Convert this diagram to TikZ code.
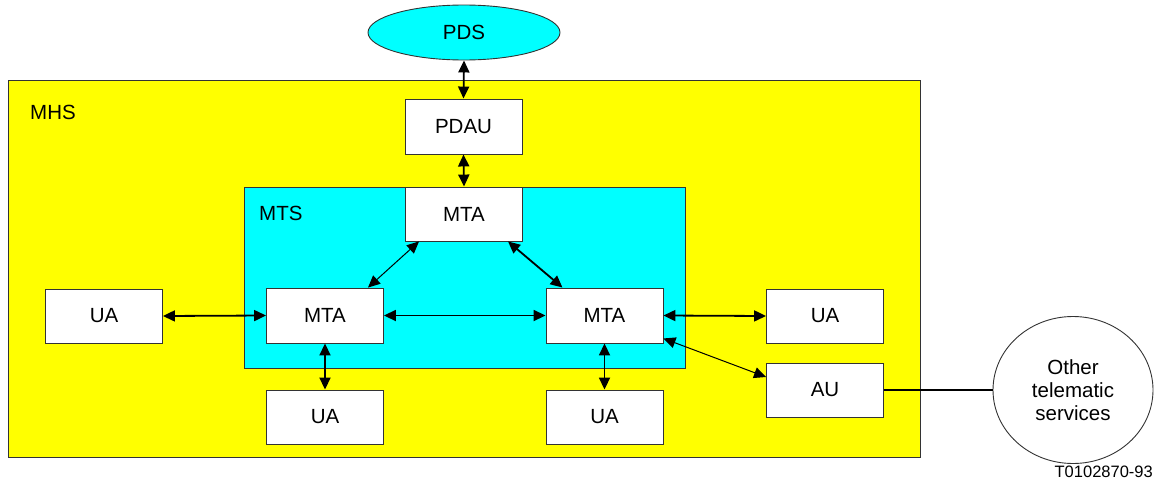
\documentclass[tikz,border=0pt]{standalone}
\usepackage{fontspec}
\setmainfont{Liberation Sans}
\usetikzlibrary{arrows.meta,shapes.geometric}
\definecolor{myyellow}{HTML}{FFFF00}
\definecolor{mycyan}{HTML}{00FFFF}
\begin{document}
\begin{tikzpicture}[x=1pt,y=-1pt,
  boxnode/.style={draw=black!80,line width=0.9pt,fill=white,minimum width=117pt,minimum height=54pt,inner sep=0pt,font=\fontsize{20.5}{23}\selectfont},
  link/.style={line width=1.8pt,{Triangle[length=12pt,width=11pt]}-{Triangle[length=12pt,width=11pt]}},
  thinlink/.style={line width=1pt,{Triangle[length=12pt,width=11pt]}-{Triangle[length=12pt,width=11pt]}},
  lbl/.style={font=\fontsize{20.5}{23}\selectfont,inner sep=0pt}]
\useasboundingbox (0,0) rectangle (1154,482);
% MHS region
\node[draw=black!80,line width=0.9pt,fill=myyellow,minimum width=912pt,minimum height=377pt,inner sep=0pt,anchor=north west] (mhs) at (8,80) {};
\node[lbl,anchor=west] (mhslabel) at (30,112) {MHS};
% MTS region
\node[draw=black!80,line width=0.9pt,fill=mycyan,minimum width=441pt,minimum height=181pt,inner sep=0pt,anchor=north west] (mts) at (244,187) {};
\node[lbl,anchor=west] (mtslabel) at (259,213) {MTS};
% PDS
\node[draw=black!80,line width=0.9pt,fill=mycyan,ellipse,minimum width=192pt,minimum height=55pt,inner sep=0pt,font=\fontsize{20.5}{23}\selectfont] (pds) at (464,32.5) {PDS};
% boxes
\node[boxnode,minimum width=117pt,minimum height=55pt] (pdau) at (463.5,126.5) {PDAU};
\node[boxnode] (mtatop) at (464,214) {MTA};
\node[boxnode,minimum height=55pt] (mtal) at (325,315.5) {MTA};
\node[boxnode,minimum height=55pt] (mtar) at (604.5,315.5) {MTA};
\node[boxnode] (ual) at (104,316) {UA};
\node[boxnode] (uar) at (825,316) {UA};
\node[boxnode] (uabl) at (325,417) {UA};
\node[boxnode] (uabr) at (604.5,417) {UA};
\node[boxnode] (au) at (825,390) {AU};
\node[draw=black!80,line width=0.9pt,fill=white,ellipse,minimum width=160pt,minimum height=147pt,inner sep=0pt,align=center,font=\fontsize{20.5}{23}\selectfont] (other) at (1073,390) {Other\\telematic\\services};
\node[font=\fontsize{16.5}{18}\selectfont,anchor=east,inner sep=0pt] (ref) at (1153,472) {T0102870-93};
% connectors
\draw[link] (pds.south) -- (pdau.north);
\draw[link] (pdau.south) -- (mtatop.north);
\draw[thinlink] ([xshift=-45pt]mtatop.south) -- ([xshift=43pt]mtal.north);
\draw[link] ([xshift=44pt]mtatop.south) -- ([xshift=-42pt]mtar.north);
\draw[link] (mtal.east) -- (mtar.west);
\draw[link] (ual.east) -- (mtal.west);
\draw[link] (mtar.east) -- (uar.west);
\draw[thinlink] ([yshift=5pt]mtar.south east) -- ([yshift=13pt]au.west);
\draw[link] (mtal.south) -- (uabl.north);
\draw[link] (mtar.south) -- (uabr.north);
\draw[line width=1.8pt] (au.east) -- (other.west);
\end{tikzpicture}
\end{document}
